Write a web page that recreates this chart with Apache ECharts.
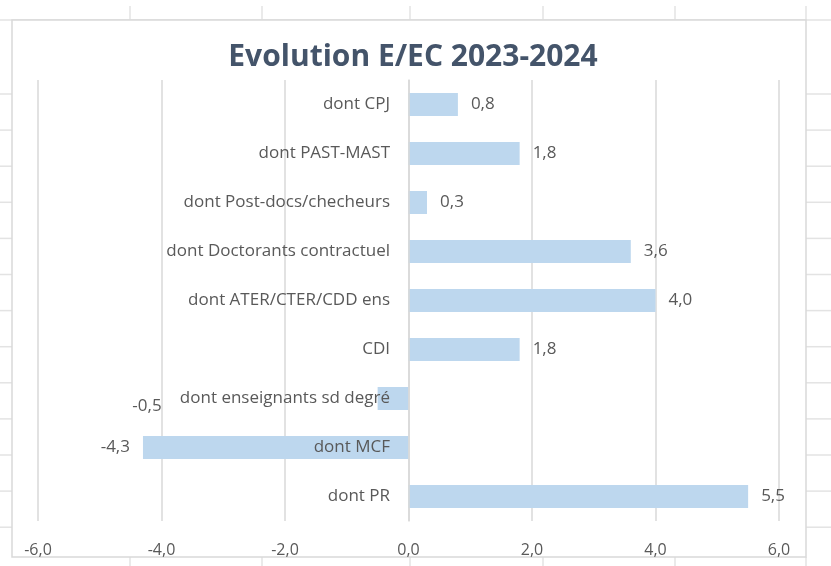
<!DOCTYPE html>
<html>
<head>
<meta charset="utf-8">
<script src="https://cdn.jsdelivr.net/npm/echarts@6/dist/echarts.min.js"></script>
<style>
html,body{margin:0;padding:0;background:#ffffff;}
#c{width:831px;height:566px;}
</style>
</head>
<body>
<div id="c"></div>
<script>
const categories = [
  "dont CPJ",
  "dont PAST-MAST",
  "dont Post-docs/checheurs",
  "dont Doctorants contractuel",
  "dont ATER/CTER/CDD ens",
  "CDI",
  "dont enseignants sd degré",
  "dont MCF",
  "dont PR"
];
const values = [0.8, 1.8, 0.3, 3.6, 4.0, 1.8, -0.5, -4.3, 5.5];
const xTicks = [-6, -4, -2, 0, 2, 4, 6];
const titleText = "Evolution E/EC 2023-2024";

const fmt = v => v.toFixed(1).replace('.', ',');

// spreadsheet background decoration
const cellLine = '#E3E3E3';
const bg = [];
const colX = [130, 262, 410, 543, 675, 806];
colX.forEach(x => {
  bg.push({type:'line', z:-10, silent:true, shape:{x1:x,y1:6,x2:x,y2:20}, style:{stroke:cellLine,lineWidth:1.5}});
  bg.push({type:'line', z:-10, silent:true, shape:{x1:x,y1:557,x2:x,y2:566}, style:{stroke:cellLine,lineWidth:1.5}});
});
for (let y = 94; y < 560; y += 36.1) {
  bg.push({type:'line', z:-10, silent:true, shape:{x1:0,y1:y,x2:12,y2:y}, style:{stroke:cellLine,lineWidth:1.5}});
  bg.push({type:'line', z:-10, silent:true, shape:{x1:806,y1:y,x2:831,y2:y}, style:{stroke:cellLine,lineWidth:1.5}});
}
bg.push({type:'line', z:-10, silent:true, shape:{x1:0,y1:20,x2:831,y2:20}, style:{stroke:cellLine,lineWidth:1.5}});
bg.push({type:'rect', z:-9, silent:true, shape:{x:12,y:20,width:794,height:537}, style:{fill:'#ffffff',stroke:'#D9D9D9',lineWidth:1.5}});

const chart = echarts.init(document.getElementById('c'));
chart.setOption({
  animation:false,
  backgroundColor:'#ffffff',
  graphic: bg,
  title:{
    text:titleText,
    left:408, top:37, textAlign:'center',
    textStyle:{fontFamily:'Open Sans', fontWeight:'bold', fontSize:30, color:'#44546A'}
  },
  grid:{left:38, right:52, top:80, bottom:45, containLabel:false, outerBoundsMode:'none'},
  xAxis:{
    type:'value', min:-6, max:6, interval:2,
    axisLine:{show:false}, axisTick:{show:false},
    splitLine:{lineStyle:{color:'#D9D9D9', width:1.5}},
    axisLabel:{formatter:v => xTicks.includes(v) ? fmt(v) : '', color:'#595959', fontFamily:'Open Sans', fontSize:16, margin:21}
  },
  yAxis:{
    type:'category', data:categories, inverse:true,
    axisLine:{show:true, onZero:true, lineStyle:{color:'#D9D9D9', width:1.5}}, axisTick:{show:false},
    axisLabel:{color:'#595959', fontFamily:'Open Sans', fontSize:17, margin:-352},
    z:5
  },
  series:[{
    type:'bar',
    data: values.map(v => ({value:v, label:{position: v < 0 ? 'left' : 'right'}})),
    barWidth:23,
    itemStyle:{color:'#BDD7EE'},
    z:2,
    label:{show:true, distance:13, color:'#595959', fontFamily:'Open Sans', fontSize:17, formatter:p => fmt(p.value)},
    labelLayout: p => (values[p.dataIndex] < 0 && Math.abs(values[p.dataIndex]) < 1) ? {dx:-203, dy:8} : {}
  }]
});
</script>
</body>
</html>
